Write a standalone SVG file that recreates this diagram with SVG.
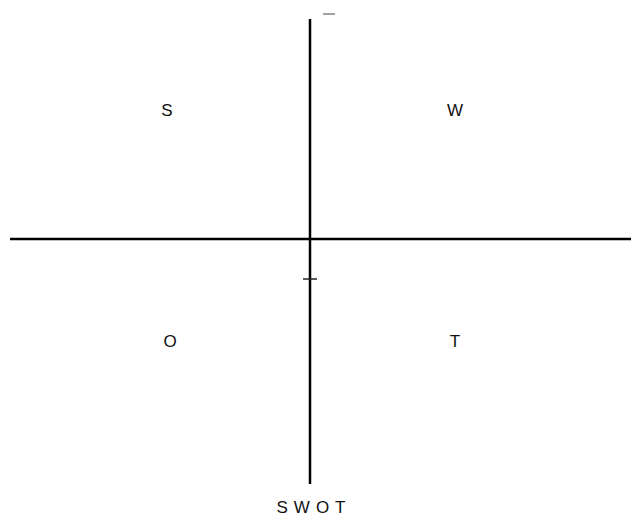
<svg xmlns="http://www.w3.org/2000/svg" width="631" height="518" viewBox="0 0 631 518">
<style>
.ax{stroke:#000;stroke-width:2.5;fill:none}
.lbl{font-family:"Liberation Sans",Arial,sans-serif;font-size:17px;fill:#111;text-anchor:middle}
</style>
<rect width="631" height="518" fill="#fff"/>
<g id="connectors">
<line class="ax" x1="310" y1="19" x2="310" y2="484"/>
<line class="ax" x1="10" y1="239" x2="631" y2="239"/>
<line x1="303" y1="279" x2="317" y2="279" stroke="#222" stroke-width="1.5"/>
<line x1="323" y1="14" x2="335" y2="14" stroke="#666" stroke-width="1.2"/>
</g>
<g id="S"><text class="lbl" x="167" y="116">S</text></g>
<g id="W"><text class="lbl" x="455" y="116">W</text></g>
<g id="O"><text class="lbl" x="170" y="347">O</text></g>
<g id="T"><text class="lbl" x="455" y="347">T</text></g>
<g id="title"><text class="lbl" x="314" y="513" letter-spacing="6">SWOT</text></g>
</svg>
